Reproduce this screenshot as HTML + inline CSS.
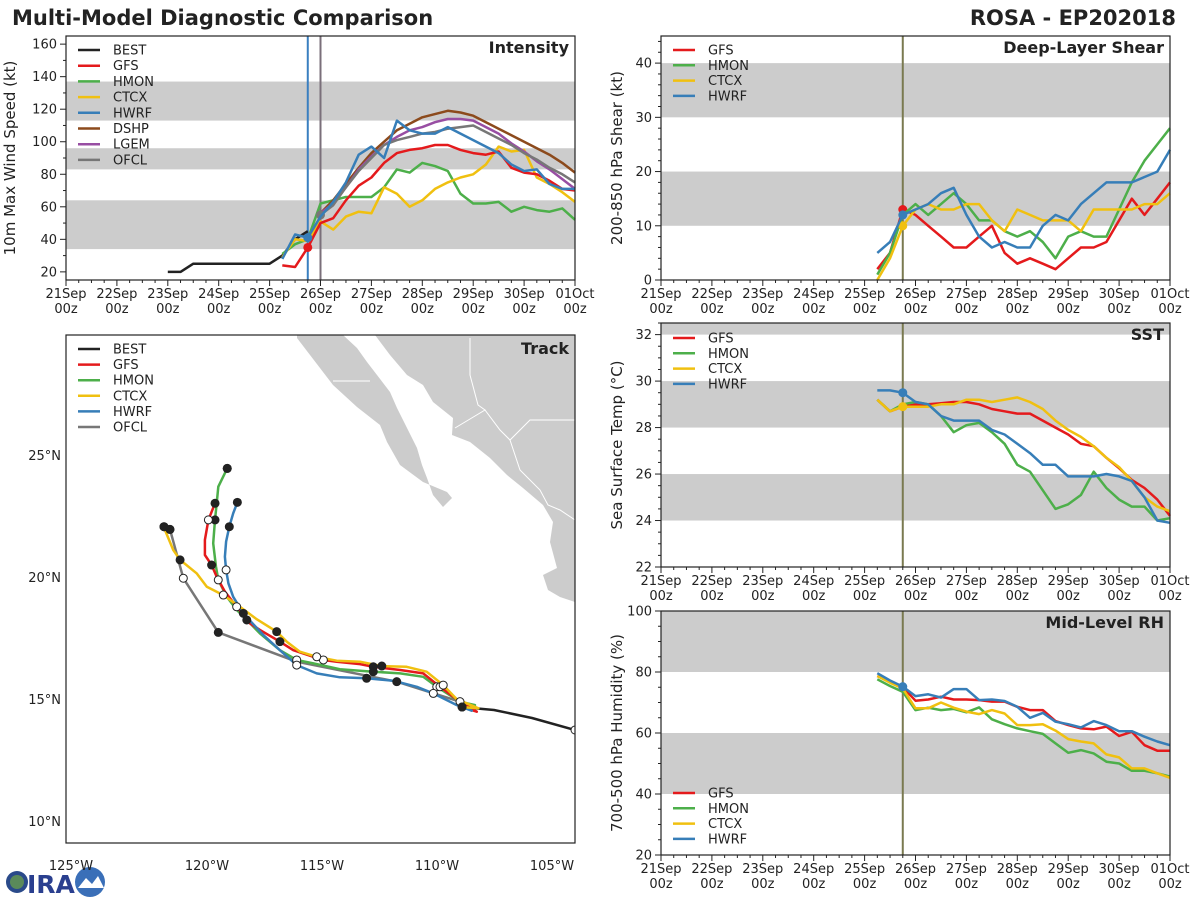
<!DOCTYPE html>
<html><head><meta charset="utf-8">
<style>
body{margin:0;background:#fff;}
svg{display:block;font-family:"DejaVu Sans","Liberation Sans",sans-serif;}
</style></head>
<body>
<svg id="s" width="1200" height="900" viewBox="0 0 1200 900">
<text x="12" y="25" font-size="21" font-weight="bold" fill="#222">Multi-Model Diagnostic Comparison</text>
<text x="1176" y="25" font-size="21" font-weight="bold" fill="#222" text-anchor="end">ROSA - EP202018</text>
<g>
<circle cx="17" cy="882" r="11" fill="#2a4a8a"/><circle cx="17" cy="882" r="7" fill="#5a8a5a"/>
<text x="27" y="893" font-size="25" font-weight="bold" fill="#2a3f8f">IRA</text>
<circle cx="90" cy="882" r="15" fill="#3a6fb8"/><path d="M78 888 L86 878 L92 884 L98 876 L104 888 Z" fill="#fff"/>
</g>
</svg>
<script>
// ---------- data ----------
const dayLabels=["21Sep","22Sep","23Sep","24Sep","25Sep","26Sep","27Sep","28Sep","29Sep","30Sep","01Oct"];
const bestDays=[2,2.25,2.5,2.75,3,3.25,3.5,3.75,4,4.25,4.5,4.75];
const bestVmax=[20,20,25,25,25,25,25,25,25,30,40,45];
const modelDays=[4.25,4.5,4.75,5,5.25,5.5,5.75,6,6.25,6.5,6.75,7,7.25,7.5,7.75,8,8.25,8.5,8.75,9,9.25,9.5,9.75,10];
const gfsVmax=[24,23,35,50,53,64,73,78,87,93,95,96,98,98,95,93,92,94,84,81,80,76,71,70];
const hmonVmax=[31,37,40,62,64,66,66,66,72,83,81,87,85,82,68,62,62,63,57,60,58,57,59,52];
const ctcxVmax=[29,40,39,51,46,54,57,56,72,68,60,64,71,75,78,80,86,97,94,95,78,74,69,63];
const hwrfVmax=[28,43,41,54,63,75,92,97,90,113,107,105,105,109,105,101,97,93,86,82,83,74,71,71];
const lateDays=[5,5.25,5.5,5.75,6,6.25,6.5,6.75,7,7.25,7.5,7.75,8,8.25,8.5,8.75,9,9.25,9.5,9.75,10];
const dshpVmax=[56,64,74,84,93,100,107,111,115,117,119,118,116,112,108,104,100,96,92,87,81];
const lgemVmax=[56,62,72,83,91,98,103,107,109,112,114,114,113,109,105,99,94,88,83,77,71];
const ofclVmax=[55,61,72,82,90,98,101,103,105,106,108,109,110,106,102,98,93,89,84,80,75];
const gfsShear=[2,5,13,12,10,8,6,6,8,10,5,3,4,3,2,4,6,6,7,11,15,12,15,18];
const hmonShear=[1,5,12,14,12,14,16,14,11,11,9,8,9,7,4,8,9,8,8,13,18,22,25,28];
const ctcxShear=[0,4,10,13,14,13,13,14,14,11,9,13,12,11,11,11,9,13,13,13,13,14,14,16];
const hwrfShear=[5,7,12,13,14,16,17,12,8,6,7,6,6,10,12,11,14,16,18,18,18,19,20,24];
const gfsSst=[29.2,28.7,28.9,29,29,29.05,29.1,29.1,29,28.8,28.7,28.6,28.6,28.3,28,27.7,27.3,27.2,26.7,26.25,25.75,25.4,24.9,24.2];
const hmonSst=[29.2,28.7,29,29.1,29,28.5,27.8,28.1,28.2,27.8,27.3,26.4,26.1,25.3,24.5,24.7,25.1,26.1,25.4,24.9,24.6,24.6,24,24.1];
const ctcxSst=[29.2,28.7,28.9,28.9,28.9,29,29,29.2,29.2,29.1,29.2,29.3,29.1,28.8,28.3,27.9,27.6,27.2,26.7,26.3,25.7,25,24.6,24.4];
const hwrfSst=[29.6,29.6,29.5,29.1,29,28.5,28.3,28.3,28.3,27.9,27.7,27.3,26.9,26.4,26.4,25.9,25.9,25.9,26,25.9,25.7,25,24,23.9];
const gfsRh=[78.7,76.8,75,70.6,71,71.9,71,71,70.8,70.3,70.3,68.6,67.5,67.5,63.9,62.6,61.5,61.2,62.1,59,60.4,56,54.2,54.2];
const hmonRh=[77.6,75.4,73.5,67.5,68.3,67.5,67.9,66.8,68.4,64.5,62.9,61.5,60.6,59.7,56.6,53.5,54.4,53.3,50.6,50,47.6,47.6,46.8,45.7];
const ctcxRh=[78.7,76.5,74.6,68.1,68.1,70,68.3,67,66.2,67.5,66.4,62.6,62.6,62.9,60.8,58,57.2,56.6,53,52,48.4,48.4,46.8,45.3];
const hwrfRh=[79.6,77.2,75.2,72.1,72.7,71.6,74.4,74.4,70.8,71,70.5,68.6,65,66.6,63.7,62.9,61.8,63.9,62.6,60.6,60.6,58.8,57.2,56];
const bestLon=[-104.0,-105.87,-107.52,-108.91];
const bestLat=[13.73,14.22,14.55,14.67];
const gfsLon=[-108.91,-108.27,-109.0,-109.87,-110.6,-111.6,-112.77,-113.35,-114.36,-114.94,-115.38,-116.25,-116.83,-117.7,-118.13,-118.71,-119.22,-119.58,-119.8,-120.09,-120.09,-119.94,-119.65];
const gfsLat=[14.67,14.48,14.89,15.5,16.05,16.19,16.32,16.43,16.53,16.6,16.73,17.0,17.35,17.83,18.1,18.78,19.4,20.01,20.49,20.9,21.52,22.34,23.02];
const hmonLon=[-108.91,-108.35,-109.0,-110.01,-110.6,-111.6,-112.77,-114.22,-115.38,-116.1,-116.83,-117.7,-118.27,-118.71,-119.14,-119.51,-119.61,-119.73,-119.65,-119.58,-119.51,-119.12];
const hmonLat=[14.67,14.75,14.89,15.5,15.91,16.05,16.12,16.22,16.46,16.6,17.0,17.69,18.24,18.65,19.19,19.88,20.42,21.38,22.34,23.02,23.7,24.45];
const ctcxLon=[-108.91,-108.2,-109.14,-109.73,-110.45,-111.32,-112.4,-113.35,-114.36,-115.23,-115.96,-116.53,-116.97,-117.84,-118.57,-119.29,-120.01,-120.45,-121.17,-121.47,-121.83,-121.87];
const ctcxLat=[14.67,14.62,14.99,15.57,16.12,16.32,16.35,16.53,16.57,16.73,16.94,17.35,17.76,18.27,18.78,19.26,19.6,20.15,20.7,21.11,21.93,22.06];
const hwrfLon=[-108.91,-108.49,-109.14,-110.16,-110.88,-111.9,-113.06,-114.22,-115.23,-116.1,-116.83,-117.55,-118.42,-118.86,-119.07,-119.17,-119.22,-119.17,-119.03,-118.86,-118.68];
const hwrfLat=[14.67,14.52,14.75,15.23,15.5,15.75,15.85,15.89,16.05,16.39,17.0,17.62,18.51,19.19,19.74,20.29,20.83,21.45,22.06,22.61,23.06];
const ofclLon=[-108.91,-109.0,-111.75,-116.1,-119.51,-121.03,-121.61];
const ofclLat=[14.67,14.89,15.71,16.53,17.73,19.95,21.95];
const lonTicks=[-125,-120,-115,-110,-105];
const latTicks=[10,15,20,25];

// ---------- helpers ----------
const S=document.getElementById('s');
const NS="http://www.w3.org/2000/svg";
function mk(tag,attrs,parent){const e=document.createElementNS(NS,tag);for(const k in attrs)e.setAttribute(k,attrs[k]);(parent||S).appendChild(e);return e;}
const C={best:"#222",gfs:"#e41a1c",hmon:"#4daf4a",ctcx:"#f0c010",hwrf:"#377eb8",dshp:"#8c4a1c",lgem:"#984ea3",ofcl:"#777"};

function timePanel(p){
  const g=mk('g',{});
  
  
  const xs=d=>p.x0+d*(p.x1-p.x0)/10;
  const ys=v=>p.y1-(v-p.vmin)*(p.y1-p.y0)/(p.vmax-p.vmin);
  p.bands.forEach(b=>{const r=mk('rect',{x:p.x0,y:ys(Math.min(b[1],p.vmax)),width:p.x1-p.x0,height:ys(b[0])-ys(Math.min(b[1],p.vmax)),fill:"#cccccc"},g);
    });
  for(let i=0;i<=40;i++){const x=xs(i/4);mk('line',{x1:x,x2:x,y1:p.y1,y2:p.y1+(i%4?3:6),stroke:"#222","stroke-width":1},g);}
  dayLabels.forEach((l,i)=>{const t=mk('text',{x:xs(i),y:p.y1+18,"font-size":13,"text-anchor":"middle",fill:"#222"},g);t.textContent=l;
    
    const t2=mk('text',{x:xs(i),y:p.y1+33,"font-size":13,"text-anchor":"middle",fill:"#222"},g);t2.textContent="00z";
    });
  const kStart=Math.ceil(p.vmin/p.minor-1e-6), kEnd=Math.floor(p.vmax/p.minor+1e-6);
  for(let k=kStart;k<=kEnd;k++){const v=k*p.minor;const y=ys(v);const r=(v-p.t0)/p.step;const maj=Math.abs(r-Math.round(r))<1e-6&&v>=p.t0-1e-6;
    mk('line',{x1:p.x0,x2:p.x0-(maj?6:3),y1:y,y2:y,stroke:"#222"},g);
    if(maj){const t=mk('text',{x:p.x0-9,y:y+4.5,"font-size":13,"text-anchor":"end",fill:"#222"},g);t.textContent=Math.round(v);
      }}
  const yl=mk('text',{x:0,y:0,"font-size":15,"text-anchor":"middle",fill:"#222",transform:`translate(${p.ylx},${(p.y0+p.y1)/2}) rotate(-90)`},g);yl.textContent=p.ylabel;
  
  p.vlines.forEach(v=>{const l=mk('line',{x1:xs(v[0]),x2:xs(v[0]),y1:p.y0,y2:p.y1,stroke:v[1],"stroke-width":2},g);
    });
  p.series.forEach(s=>{const pts=s.d.map((d,i)=>xs(d).toFixed(1)+","+ys(s.v[i]).toFixed(1)).join(" ");
    const l=mk('polyline',{points:pts,fill:"none",stroke:C[s.k],"stroke-width":2.5,"stroke-linejoin":"round"},g);
    
    if(s.dot!==undefined){const c=mk('circle',{cx:xs(s.d[s.dot]),cy:ys(s.v[s.dot]),r:4.5,fill:C[s.k]},g);
      }});
  mk('rect',{x:p.x0,y:p.y0,width:p.x1-p.x0,height:p.y1-p.y0,fill:"none",stroke:"#222","stroke-width":1.2},g);
  const tt=mk('text',{x:p.x1-6,y:p.y0+17,"font-size":16,"font-weight":"bold","text-anchor":"end",fill:"#222"},g);tt.textContent=p.title;
  
  legend(g,p.x0+12,p.legY,p.legend,p.legStep);
}
function legend(g,x,y,keys,step){
  const lg=mk('g',{},g);
  
  
  keys.forEach((k,i)=>{const yy=y+i*step;
    mk('line',{x1:x,x2:x+22,y1:yy,y2:yy,stroke:C[k],"stroke-width":2.5},lg);
    const t=mk('text',{x:x+35,y:yy+4.5,"font-size":13,fill:"#222"},lg);t.textContent=k.toUpperCase();
    });
}
const M=["gfs","hmon","ctcx","hwrf"];
timePanel({name:"intensity",x0:66,x1:575,y0:36,y1:280,vmin:15,vmax:165,t0:20,step:20,minor:10,ylx:15,ylabel:"10m Max Wind Speed (kt)",title:"Intensity",
  bands:[[34,64],[83,96],[113,137]],vlines:[[4.75,"#3a7fc0"],[5,"#7a6f7a"]],legY:50,legStep:15.7,
  legend:["best","gfs","hmon","ctcx","hwrf","dshp","lgem","ofcl"],
  series:[{k:"best",d:bestDays,v:bestVmax},{k:"hmon",d:modelDays,v:hmonVmax},{k:"ctcx",d:modelDays,v:ctcxVmax},{k:"dshp",d:lateDays,v:dshpVmax},{k:"lgem",d:lateDays,v:lgemVmax},{k:"ofcl",d:lateDays,v:ofclVmax,dot:0},{k:"gfs",d:modelDays,v:gfsVmax,dot:2},{k:"hwrf",d:modelDays,v:hwrfVmax,dot:2}]});
timePanel({name:"shear",x0:661,x1:1170,y0:36,y1:280,vmin:0,vmax:45,t0:0,step:10,minor:2,ylx:622,ylabel:"200-850 hPa Shear (kt)",title:"Deep-Layer Shear",
  bands:[[10,20],[30,40]],vlines:[[4.75,"#7a7a50"]],legY:50,legStep:15.3,legend:M,
  series:[{k:"gfs",d:modelDays,v:gfsShear,dot:2},{k:"hmon",d:modelDays,v:hmonShear},{k:"ctcx",d:modelDays,v:ctcxShear,dot:2},{k:"hwrf",d:modelDays,v:hwrfShear,dot:2}]});
timePanel({name:"sst",x0:661,x1:1170,y0:323,y1:567,vmin:22,vmax:32.5,t0:22,step:2,minor:0.5,ylx:622,ylabel:"Sea Surface Temp (°C)",title:"SST",
  bands:[[24,26],[28,30],[32,34]],vlines:[[4.75,"#7a7a50"]],legY:338,legStep:15.3,legend:M,
  series:[{k:"gfs",d:modelDays,v:gfsSst},{k:"hmon",d:modelDays,v:hmonSst},{k:"ctcx",d:modelDays,v:ctcxSst,dot:2},{k:"hwrf",d:modelDays,v:hwrfSst,dot:2}]});
timePanel({name:"rh",x0:661,x1:1170,y0:611,y1:855,vmin:20,vmax:100,t0:20,step:20,minor:5,ylx:622,ylabel:"700-500 hPa Humidity (%)",title:"Mid-Level RH",
  bands:[[40,60],[80,100]],vlines:[[4.75,"#7a7a50"]],legY:793,legStep:15.3,legend:M,
  series:[{k:"gfs",d:modelDays,v:gfsRh},{k:"hmon",d:modelDays,v:hmonRh},{k:"ctcx",d:modelDays,v:ctcxRh},{k:"hwrf",d:modelDays,v:hwrfRh,dot:2}]});

// ---------- track ----------
(function(){
  const g=mk('g',{});
  
  
  const X0=66,X1=575,Y0=335,Y1=843;
  const lx=lon=>207+(lon+120)*23;
  const ly=lat=>577-(lat-20)*24.4;
  const defs=mk('defs',{},g);
  const cpath=mk('clipPath',{id:"tc"},defs);
  mk('rect',{x:X0,y:Y0,width:X1-X0,height:Y1-Y0},cpath);
  const inner=mk('g',{"clip-path":"url(#tc)"},g);
  const baja=mk('polygon',{points:"297,335 297,338 310,355 333,385 357,407 380,425 387,442 400,465 423,482 447,492 452,498 443,507 433,495 427,478 422,465 417,448 407,428 397,408 390,392 377,375 367,362 357,348 343,335",fill:"#cccccc"},inner);
  
  const main=mk('polygon',{points:"375,335 390,355 407,375 423,385 433,402 453,418 452,435 470,442 490,458 507,475 523,488 543,505 553,522 550,542 557,568 543,575 548,590 560,597 575,602 576,335",fill:"#cccccc"},inner);
  
  mk('polyline',{points:"333,381 370,381",stroke:"#fff","stroke-width":1,fill:"none"},inner);
  mk('polyline',{points:"470,338 470,375 478,405 485,410 455,428",stroke:"#fff","stroke-width":1,fill:"none"},inner);
  mk('polyline',{points:"485,410 500,430 510,440 530,420 545,420 575,420",stroke:"#fff","stroke-width":1,fill:"none"},inner);
  mk('polyline',{points:"510,440 520,470 540,490 548,505 560,510 575,520",stroke:"#fff","stroke-width":1,fill:"none"},inner);
  const tracks=[["ofcl",ofclLon,ofclLat],["best",bestLon,bestLat],["hmon",hmonLon,hmonLat],["gfs",gfsLon,gfsLat],["hwrf",hwrfLon,hwrfLat],["ctcx",ctcxLon,ctcxLat]];
  tracks.forEach(t=>{const pts=t[1].map((lo,i)=>lx(lo).toFixed(1)+","+ly(t[2][i]).toFixed(1)).join(" ");
    const l=mk('polyline',{points:pts,fill:"none",stroke:C[t[0]],"stroke-width":2.5,"stroke-linejoin":"round"},inner);
    });
  tracks.forEach(t=>{const n=t[1].length;const step=t[0]==="ofcl"?1:3;let k=0;
    for(let i=(t[0]==="best"?0:step);i<n;i+=step){const c=mk('circle',{cx:lx(t[1][i]),cy:ly(t[2][i]),r:4,fill:(k++%2)?"#222":"#fff",stroke:"#222","stroke-width":1},inner);
      }
    const e=mk('circle',{cx:lx(t[1][n-1]),cy:ly(t[2][n-1]),r:4.5,fill:"#222"},inner);
    });
  mk('rect',{x:X0,y:Y0,width:X1-X0,height:Y1-Y0,fill:"none",stroke:"#222","stroke-width":1.2},g);
  lonTicks.forEach(lo=>{const t=mk('text',{x:lo===-125?71:lx(lo),y:870,"font-size":13,"text-anchor":"middle",fill:"#222"},g);t.textContent=Math.abs(lo)+"°W";
    });
  latTicks.forEach(la=>{const t=mk('text',{x:61,y:ly(la)+5,"font-size":13,"text-anchor":"end",fill:"#222"},g);t.textContent=la+"°N";
    });
  const tt=mk('text',{x:X1-6,y:Y0+19,"font-size":16,"font-weight":"bold","text-anchor":"end",fill:"#222"},g);tt.textContent="Track";
  
  legend(g,78,349,["best","gfs","hmon","ctcx","hwrf","ofcl"],15.6);
})();
</script>
</body></html>
